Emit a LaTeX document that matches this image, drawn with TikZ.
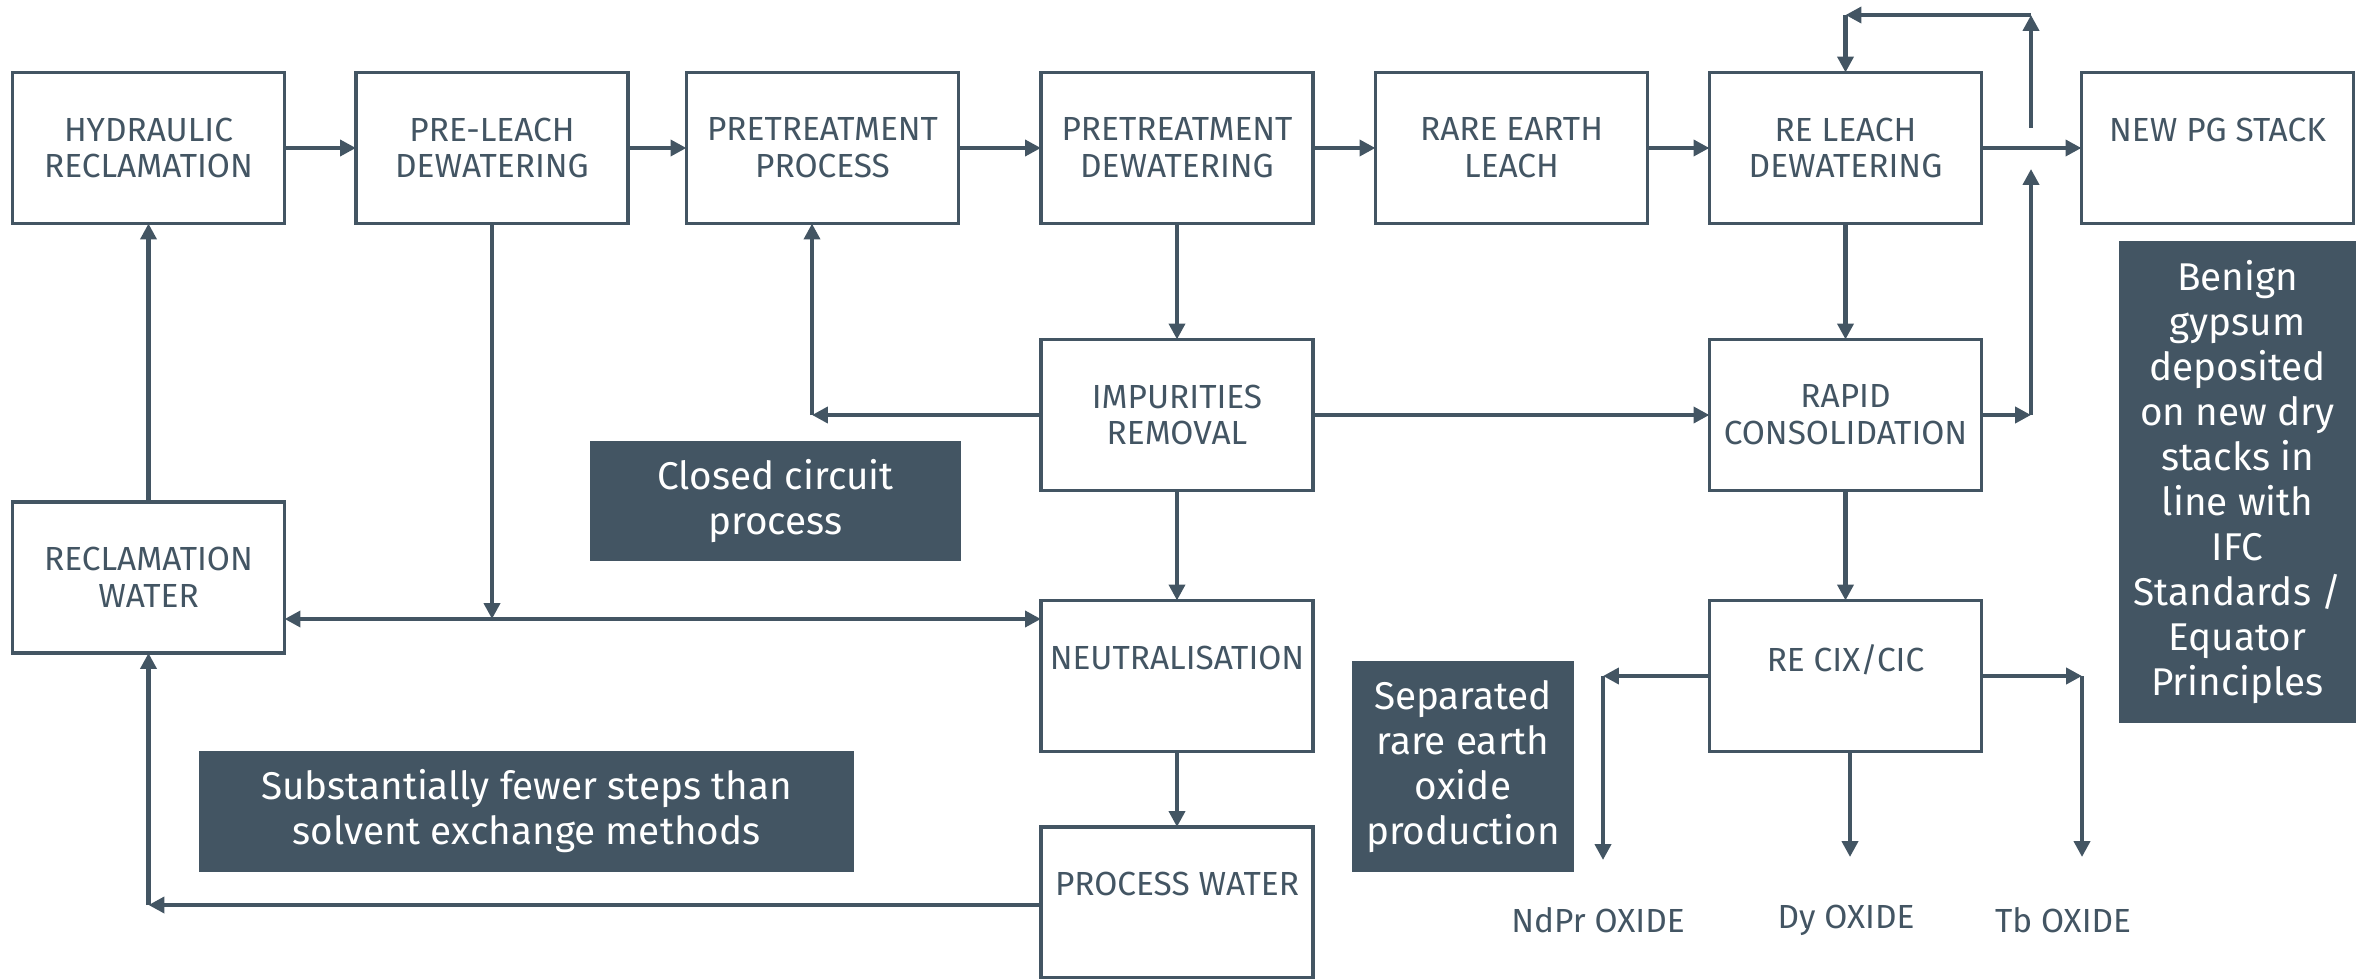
\documentclass[tikz,border=0pt]{standalone}
\usepackage{fontspec}
\setmainfont{Fira Sans}
\usetikzlibrary{arrows.meta}
\definecolor{slate}{HTML}{435563}
\begin{document}
\begin{tikzpicture}[x=0.01cm,y=-0.01cm,
  pbox/.style={draw=slate, line width=1pt, minimum width=2.72cm, minimum height=1.51cm, inner sep=0pt, outer sep=0pt, align=center, text=slate, font=\fontsize{9.5}{10.5}\selectfont},
  dbox/.style={fill=slate, inner sep=0pt, outer sep=0pt, align=center, text=white, font=\fontsize{11}{12.8}\selectfont},
  conn/.style={draw=slate, line width=1.2pt, -{Triangle[length=4.5pt,width=4.5pt]}},
  biconn/.style={draw=slate, line width=1.2pt, {Triangle[length=4.5pt,width=4.5pt]}-{Triangle[length=4.5pt,width=4.5pt]}},
  lbl/.style={text=slate, font=\fontsize{9.5}{10.5}\selectfont, inner sep=0pt}
]
\useasboundingbox (0,0) rectangle (2366,979);

% process boxes
\node[pbox] (hyd) at (148.5,148) {HYDRAULIC\\RECLAMATION};
\node[pbox] (pre) at (492,148) {PRE-LEACH\\DEWATERING};
\node[pbox] (ptp) at (822.5,148) {PRETREATMENT\\PROCESS};
\node[pbox] (ptd) at (1177,148) {PRETREATMENT\\DEWATERING};
\node[pbox] (rel) at (1511.5,148) {RARE EARTH\\LEACH};
\node[pbox] (rld) at (1845.5,148) {RE LEACH\\DEWATERING};
\node[pbox] (npg) at (2217.5,148) {NEW PG STACK\\\mbox{}};
\node[pbox] (imp) at (1177,415) {IMPURITIES\\REMOVAL};
\node[pbox] (rap) at (1845.5,415) {RAPID\\CONSOLIDATION};
\node[pbox] (neu) at (1177,676) {NEUTRALISATION\\\mbox{}};
\node[pbox] (cix) at (1845.5,676) {RE CIX/CIC\\\mbox{}};
\node[pbox] (recw) at (148.5,577.5) {RECLAMATION\\WATER};
\node[pbox] (pw) at (1177,902.5) {PROCESS WATER\\\mbox{}};

% dark note boxes
\node[dbox, minimum width=3.71cm, minimum height=1.20cm] (ccp) at (775.5,501) {Closed circuit\\process};
\node[dbox, minimum width=6.55cm, minimum height=1.21cm] (sub) at (526.5,811.5) {Substantially fewer steps than\\solvent exchange methods};
\node[dbox, minimum width=2.22cm, minimum height=2.11cm] (sep) at (1463,766.5) {Separated\\rare earth\\oxide\\production};
\node[dbox, minimum width=2.37cm, minimum height=4.82cm] (ben) at (2237.5,482) {Benign\\gypsum\\deposited\\on new dry\\stacks in\\line with\\IFC\\Standards /\\Equator\\Principles};

% outputs
\node[lbl] (ndpr) at (1598,920) {NdPr OXIDE};
\node[lbl] (dy) at (1846,920) {Dy OXIDE};
\node[lbl] (tb) at (2063,920) {Tb OXIDE};

% coordinates
\coordinate (j1) at (2031,128);
\coordinate (j2) at (2031,15);
\coordinate (j4) at (2031,415);
\coordinate (j5) at (2031,169);
\coordinate (c1) at (812,415);
\coordinate (dl) at (0,619);
\coordinate (c2) at (148.5,905);
\coordinate (c3) at (1603,676);
\coordinate (c4) at (1603,860);
\coordinate (c5) at (1850,857);
\coordinate (c6) at (2082,676);
\coordinate (c7) at (2082,857);

% main row
\draw[conn] (hyd) -- (pre);
\draw[conn] (pre) -- (ptp);
\draw[conn] (ptp) -- (ptd);
\draw[conn] (ptd) -- (rel);
\draw[conn] (rel) -- (rld);
\draw[conn] (rld) -- (npg);

% top loop
\draw[conn] (j1) -- (j2);
\draw[conn] (j2) -- (rld.north |- j2);
\draw[conn] (rld.north |- j2) -- (rld.north);

% verticals
\draw[conn] (ptd) -- (imp);
\draw[conn] (rld) -- (rap);
\draw[conn] (imp) -- (neu);
\draw[conn] (neu) -- (pw);
\draw[conn] (rap) -- (cix);
\draw[conn] (recw) -- (hyd);

% impurities outputs
\draw[conn] (imp) -- (rap);
\draw[conn] (imp.west) -- (c1);
\draw[conn] (c1) -- (c1 |- ptp.south);

% rapid consolidation to stack
\draw[conn] (rap.east) -- (j4);
\draw[conn] (j4) -- (j5);

% water circuit
\draw[biconn] (recw.east |- dl) -- (neu.west |- dl);
\draw[conn] (pre.south) -- (pre.south |- dl);
\draw[conn] (pw.west |- c2) -- (c2);
\draw[conn] (c2) -- (recw.south);

% CIX outputs
\draw[conn] (cix.west) -- (c3);
\draw[conn] (c3) -- (c4);
\draw[conn] (cix.south -| c5) -- (c5);
\draw[conn] (cix.east) -- (c6);
\draw[conn] (c6) -- (c7);
\end{tikzpicture}
\end{document}
